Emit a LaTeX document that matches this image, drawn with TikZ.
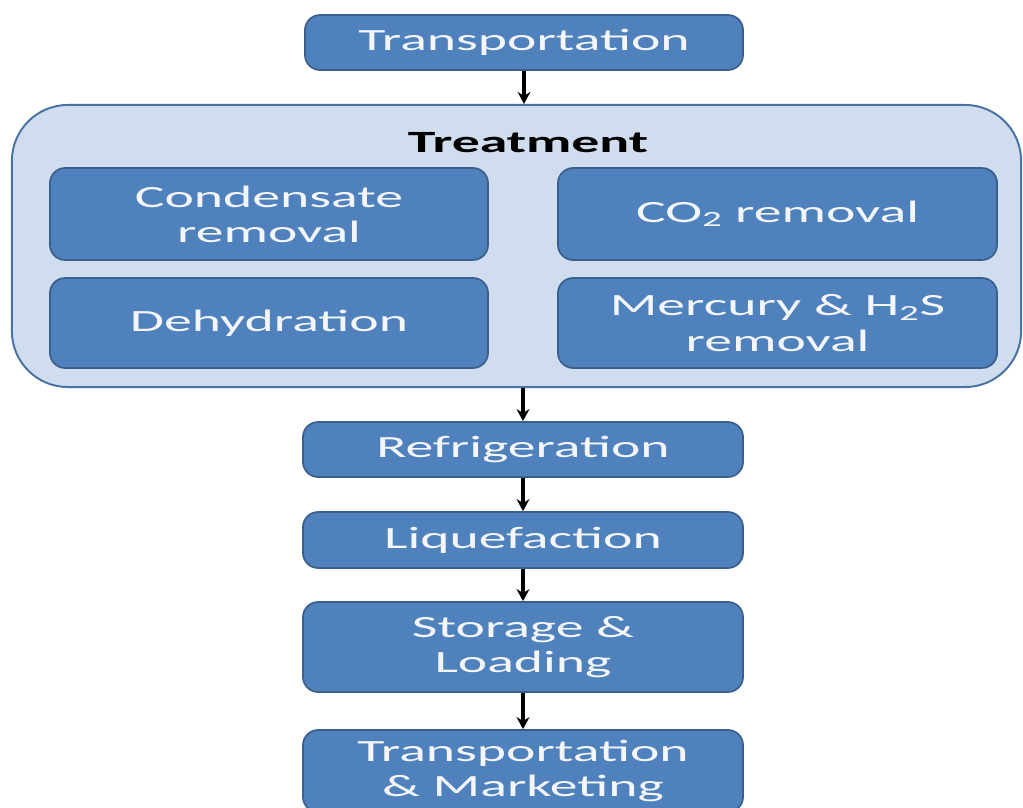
\documentclass[tikz,border=0pt]{standalone}
\usepackage{fontspec}
\setmainfont[FakeStretch=1.8]{Carlito}
\usetikzlibrary{arrows.meta}
\definecolor{boxblue}{HTML}{4F81BD}
\definecolor{boxedge}{HTML}{3A5F8C}
\definecolor{treatfill}{HTML}{D0DDEE}
\definecolor{treatedge}{HTML}{4A72A3}
\definecolor{txtwhite}{HTML}{F4F6FA}
\tikzset{
  stepbox/.style={draw=boxedge, line width=1.2pt, fill=boxblue, rounded corners=0.38cm,
    text=txtwhite, align=center, inner sep=0pt, font=\fontsize{22}{25}\selectfont},
  flowarrow/.style={draw=black, line width=2.2pt, -{Stealth[length=0.3cm,width=0.32cm]}},
}
\begin{document}
\begin{tikzpicture}[x=0.025cm,y=-0.025cm]
\useasboundingbox (0,0) rectangle (1023,807);
\clip (0,0) rectangle (1023,807);
\fill[white] (0,0) rectangle (1023,807);
\node[stepbox, minimum width=10.95cm, minimum height=1.375cm] (t1) at (524,42.5) {Transportation};
\node[draw=treatedge, line width=1.4pt, fill=treatfill, rounded corners=1.4cm,
  minimum width=25.225cm, minimum height=7.05cm, inner sep=0pt] (treat) at (516.5,246) {};
\node[font=\fontsize{22}{25}\selectfont\bfseries, text=black] (tl) at (528,143) {Treatment};
\node[stepbox, minimum width=10.95cm, minimum height=2.3cm] (cond) at (269,214) {Condensate\\removal};
\node[stepbox, minimum width=10.95cm, minimum height=2.25cm] (dehy) at (269,323) {Dehydration};
\node[stepbox, minimum width=10.975cm, minimum height=2.3cm] (co2) at (777.5,214) {CO\textsubscript{2} removal};
\node[stepbox, minimum width=10.975cm, minimum height=2.25cm] (merc) at (777.5,323) {Mercury \& H\textsubscript{2}S\\removal};
\node[stepbox, minimum width=11cm, minimum height=1.375cm] (refr) at (523,449.5) {Refrigeration};
\node[stepbox, minimum width=11cm, minimum height=1.4cm] (liq) at (523,540) {Liquefaction};
\node[stepbox, minimum width=11cm, minimum height=2.25cm] (stor) at (523,647) {Storage \&\\Loading};
\node[stepbox, minimum width=11cm, minimum height=2.05cm] (tm) at (523,771) {Transportation\\\& Marketing};
\draw[flowarrow] (t1.south) -- (t1.south |- treat.north);
\draw[flowarrow] (refr.north |- treat.south) -- (refr.north);
\draw[flowarrow] (refr.south) -- (liq.north);
\draw[flowarrow] (liq.south) -- (stor.north);
\draw[flowarrow] (stor.south) -- (tm.north);
\end{tikzpicture}
\end{document}
